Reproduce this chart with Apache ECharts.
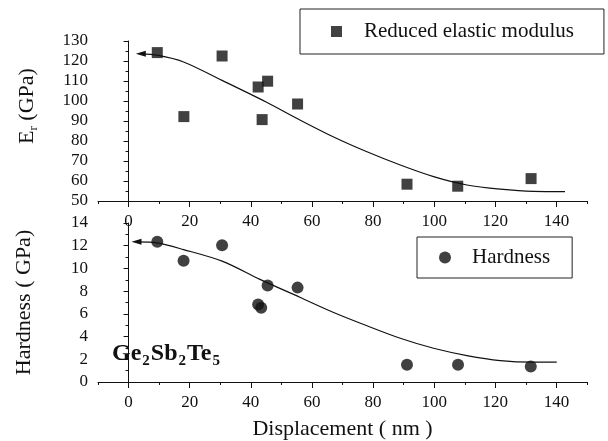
<!DOCTYPE html>
<html>
<head>
<meta charset="utf-8">
<script src="https://cdn.jsdelivr.net/npm/echarts@6/dist/echarts.min.js"></script>
<style>html,body{margin:0;padding:0;background:#fff}#c{width:608px;height:441px}</style>
</head>
<body>
<div id="c"></div>
<script>
// ---- data ----
var xModulus = [9.4, 18.1, 30.6, 42.4, 43.7, 45.5, 55.3, 91.1, 107.7, 131.7];
var modulus  = [124.2, 92.2, 122.5, 107.0, 90.7, 109.9, 98.5, 58.4, 57.4, 61.2];
var xHardness = [9.4, 18.0, 30.6, 42.4, 43.4, 45.5, 55.3, 91.1, 107.8, 131.6];
var hardness  = [12.34, 10.67, 12.04, 6.82, 6.53, 8.49, 8.31, 1.51, 1.51, 1.37];
var xModFit = [4.0, 9.4, 18.0, 30.6, 45.0, 56.2, 67.1, 78.0, 88.9, 99.8, 110.7, 121.6, 132.4, 142.8];
var modFit  = [123.6, 122.9, 119.5, 110.3, 99.5, 90.4, 82.0, 74.6, 68.0, 62.2, 58.0, 55.9, 54.8, 54.7];
var xHardFit = [2.6, 9.4, 18.0, 30.6, 43.0, 56.2, 67.1, 78.0, 88.9, 99.8, 110.7, 121.6, 132.4, 140.1];
var hardFit  = [12.34, 12.25, 11.66, 10.64, 9.04, 7.44, 6.12, 4.95, 3.85, 2.97, 2.33, 1.89, 1.75, 1.75];
var xMajorTicks = [0, 20, 40, 60, 80, 100, 120, 140];
var modulusName = 'Reduced elastic modulus';
var hardnessName = 'Hardness';

function pairs(xs, ys) { return xs.map(function (x, i) { return [x, ys[i]]; }); }
function fitData(xs, ys) {
  var d = pairs(xs, ys).map(function (p) { return { value: p }; });
  d[0].symbol = 'triangle'; d[0].symbolSize = [6, 10]; d[0].symbolRotate = 90;
  return d;
}

var FONT = '"Liberation Serif", "Times New Roman", serif';
var INK = '#111';
var line = { show: true, lineStyle: { color: INK, width: 1 } };

function xAxes(grid, withName) {
  var main = {
    type: 'value', gridIndex: grid, position: 'bottom', min: -10, max: 150, interval: 10,
    axisLine: line, splitLine: { show: false },
    axisTick: { show: true, length: 3, lineStyle: { color: INK } },
    axisLabel: { color: INK, fontFamily: FONT, fontSize: 17, margin: 12,
      formatter: function (v) { return v % 20 === 0 ? String(v) : ''; } }
  };
  if (withName) {
    main.name = 'Displacement ( nm )';
    main.nameLocation = 'middle';
    main.nameGap = 36;
    main.nameTextStyle = { color: INK, fontFamily: FONT, fontSize: 22 };
  }
  var major = {
    type: 'value', gridIndex: grid, position: 'bottom', offset: 0, min: -10, max: 150, interval: 10,
    axisLine: { show: false }, splitLine: { show: false },
    axisTick: { show: true, length: 6, customValues: xMajorTicks, lineStyle: { color: INK } },
    axisLabel: { show: false }
  };
  return [main, major];
}

var option = {
  animation: false,
  backgroundColor: '#fff',
  grid: [
    { left: 98, right: 21, top: 41, height: 160 },
    { left: 98, right: 21, top: 223, height: 160 }
  ],
  legend: [
    { data: [modulusName], left: 300, top: 9, orient: 'horizontal', icon: 'rect',
      itemWidth: 11, itemHeight: 11, padding: [12, 30, 12, 31],
      borderColor: '#222', borderWidth: 1, selectedMode: false,
      textStyle: { color: INK, fontFamily: FONT, fontSize: 21, padding: [0, 0, 0, 17] } },
    { data: [hardnessName], left: 417, top: 237, orient: 'horizontal', icon: 'circle',
      itemWidth: 12, itemHeight: 12, padding: [10, 22, 10, 22],
      borderColor: '#222', borderWidth: 1, selectedMode: false,
      textStyle: { color: INK, fontFamily: FONT, fontSize: 21, padding: [0, 0, 0, 16] } }
  ],
  xAxis: xAxes(0, false).concat(xAxes(1, true)),
  yAxis: [
    { type: 'value', gridIndex: 0, min: 50, max: 130, interval: 10,
      axisLine: line, splitLine: { show: false },
      axisTick: { show: true, length: 5, lineStyle: { color: INK } },
      minorTick: { show: true, splitNumber: 2, length: 3, lineStyle: { color: INK } },
      axisLabel: { color: INK, fontFamily: FONT, fontSize: 17, margin: 10 },
      name: '{a|E}{s|r}{a| (GPa)}', nameLocation: 'middle', nameRotate: 90, nameGap: 58,
      nameTextStyle: { padding: [0, 0, 0, 30], rich: {
        a: { fontFamily: FONT, fontSize: 22, color: INK, verticalAlign: 'top', lineHeight: 24 },
        s: { fontFamily: FONT, fontSize: 13, color: INK, verticalAlign: 'bottom', lineHeight: 13, padding: [14, 0, 0, 0] } } } },
    { type: 'value', gridIndex: 1, min: 0, max: 14, interval: 2,
      axisLine: line, splitLine: { show: false },
      axisTick: { show: true, length: 5, lineStyle: { color: INK } },
      minorTick: { show: true, splitNumber: 2, length: 3, lineStyle: { color: INK } },
      axisLabel: { color: INK, fontFamily: FONT, fontSize: 17, margin: 10 },
      name: 'Hardness ( GPa)', nameLocation: 'middle', nameRotate: 90, nameGap: 63,
      nameTextStyle: { color: INK, fontFamily: FONT, fontSize: 22 } }
  ],
  series: [
    { name: modulusName, type: 'scatter', xAxisIndex: 0, yAxisIndex: 0,
      symbol: 'rect', symbolSize: 11, itemStyle: { color: INK },
      data: pairs(xModulus, modulus), z: 3 },
    { name: 'modulus fit', type: 'line', xAxisIndex: 0, yAxisIndex: 0,
      smooth: 0.3, symbol: 'none', showSymbol: true,
      lineStyle: { color: INK, width: 1.2 }, itemStyle: { color: INK },
      data: fitData(xModFit, modFit), z: 2 },
    { name: hardnessName, type: 'scatter', xAxisIndex: 2, yAxisIndex: 1,
      symbol: 'circle', symbolSize: 12, itemStyle: { color: INK },
      data: pairs(xHardness, hardness), z: 3 },
    { name: 'hardness fit', type: 'line', xAxisIndex: 2, yAxisIndex: 1,
      smooth: 0.3, symbol: 'none', showSymbol: true,
      lineStyle: { color: INK, width: 1.2 }, itemStyle: { color: INK },
      data: fitData(xHardFit, hardFit), z: 2 }
  ],
  graphic: [
    { type: 'text', left: 112, top: 332, z: 10,
      style: { text: '{a|Ge}{s|2}{a|Sb}{s|2}{a|Te}{s|5}', fill: INK,
        rich: {
          a: { fontFamily: FONT, fontSize: 24, fontWeight: 'bold', fill: INK, verticalAlign: 'top', lineHeight: 27, padding: [0, 1, 0, 0] },
          s: { fontFamily: FONT, fontSize: 15, fontWeight: 'bold', fill: INK, verticalAlign: 'bottom', lineHeight: 15, padding: [22, 1, 0, 0] }
        } } }
  ]
};

var chart = echarts.init(document.getElementById('c'), null, { renderer: 'canvas' });
chart.setOption(option);
</script>
</body>
</html>
